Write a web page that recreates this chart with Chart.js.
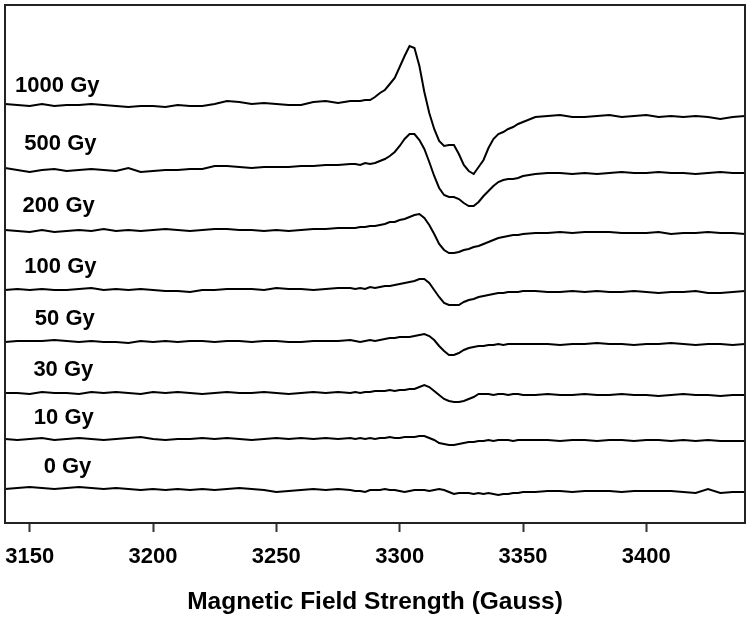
<!DOCTYPE html>
<html>
<head>
<meta charset="utf-8">
<script src="https://cdn.jsdelivr.net/npm/chart.js@4.4.1/dist/chart.umd.min.js"></script>
<style>
  html, body { margin: 0; padding: 0; background: #fff; }
  #wrap { width: 750px; height: 617px; }
</style>
</head>
<body>
<div id="wrap"><canvas id="c" width="750" height="617"></canvas></div>
<script>
// Magnetic field (Gauss)
const fields = [3140,3145,3150,3155,3160,3165,3170,3175,3180,3185,3190,3195,3200,3205,3210,3215,3220,3225,3230,3235,3240,3245,3250,3255,3260,3265,3270,3275,3280,
  3282,3284,3286,3288,3290,3292,3294,3296,3298,3300,3302,3304,3306,3308,3310,3312,3314,3316,3318,3320,3322,3324,3326,3328,3330,3332,3334,3336,3338,3340,3342,3344,3346,3348,3350,
  3355,3360,3365,3370,3375,3380,3385,3390,3395,3400,3405,3410,3415,3420,3425,3430,3435,3440];

const doseLabels = ["1000 Gy","500 Gy","200 Gy","100 Gy","50 Gy","30 Gy","10 Gy","0 Gy"];
// vertical stacking offsets (a.u.)
const offsets = [419, 355, 293, 233, 181, 130, 84, 34];

// EPR first-derivative signals (a.u.)
const s1000 = [0,-1,-2,0,-2,-1,-1,0,-1,-2,-3,-2,-2,-3,-1,-2,-2,0,3,2,0,1,0,-1,-1,2,3,1,3,
  3,3,4,4,7,11,14,20,26,37,48,58,56,38,12,-9,-25,-37,-42,-41,-41,-50,-61,-67,-70,-63,-56,-44,-35,-30,-28,-25,-23,-20,-18,
  -13,-12,-11,-13,-13,-12,-11,-13,-12,-11,-13,-12,-13,-12,-13,-15,-13,-12];
const s500 = [0,-2,-4,-2,-1,-3,-2,-1,-2,-3,0,-4,-3,-2,-2,-1,-1,2,2,1,0,1,1,1,2,2,3,3,4,
  4,3,5,4,5,7,9,12,16,22,29,34,34,28,19,6,-8,-20,-27,-29,-29,-31,-35,-38,-38,-34,-28,-23,-18,-14,-12,-11,-11,-10,-8,
  -6,-5,-5,-6,-5,-6,-5,-4,-5,-5,-4,-5,-5,-6,-5,-4,-5,-5];
const s200 = [0,-1,-2,0,-2,-1,0,-1,1,-1,0,-1,0,1,0,-1,0,1,1,0,0,-1,0,-1,0,1,1,2,2,
  2,3,3,4,4,5,6,8,8,10,11,13,15,16,12,5,-4,-14,-20,-23,-23,-22,-20,-19,-17,-16,-14,-12,-10,-8,-7,-6,-5,-5,-4,
  -3,-3,-2,-3,-2,-2,-2,-3,-3,-3,-2,-4,-3,-3,-2,-3,-3,-4];
const s100 = [0,1,0,1,0,0,1,2,0,1,0,1,0,-1,-1,-2,0,0,1,1,1,0,2,1,1,0,1,2,2,
  1,2,1,3,2,3,4,4,5,6,7,8,9,11,11,7,0,-7,-13,-15,-15,-15,-12,-10,-9,-7,-6,-5,-4,-3,-3,-2,-2,-2,-1,
  -1,-2,-2,-1,-2,-1,-2,-2,-1,-2,-3,-2,-2,-1,-3,-3,-2,-1];
const s50 = [0,1,1,1,2,1,0,1,0,0,-1,1,0,1,0,1,1,0,1,1,0,1,1,0,0,1,1,1,2,
  1,0,1,2,1,2,3,4,4,5,5,5,6,7,8,6,2,-4,-9,-13,-13,-11,-8,-6,-5,-4,-4,-3,-3,-2,-3,-2,-2,-2,-2,
  -2,-2,-3,-2,-2,-1,-2,-2,-3,-2,-2,-1,-2,-3,-2,-2,-3,-2];
const s30 = [0,0,-1,1,0,0,-1,1,0,1,0,-1,1,0,1,0,-1,0,1,0,0,1,0,-1,0,1,0,1,0,
  1,0,1,1,2,2,2,3,2,3,3,4,4,6,8,6,2,-2,-6,-8,-9,-9,-8,-6,-4,-1,-1,-1,-2,-1,-1,-2,-1,-1,-2,
  -2,-1,-2,-2,-1,-2,-2,-1,-2,-2,-3,-2,-1,-2,-2,-3,-2,-2];
const s10 = [0,-1,0,1,-1,0,1,0,-1,0,1,2,0,-1,0,0,1,0,1,0,-1,0,1,0,1,0,1,0,1,
  0,1,0,1,0,1,1,2,1,1,2,2,2,3,3,1,-1,-4,-5,-6,-6,-5,-4,-3,-3,-2,-2,-1,-2,-1,-1,-1,-2,-1,-1,
  -1,-1,-2,-1,-1,-2,-1,-1,-2,-1,-1,-2,-1,-2,-1,-2,-2,-2];
const s0 = [0,1,2,1,0,1,2,1,0,1,0,-1,0,-1,0,-1,0,-1,0,1,0,-1,-3,-2,-1,0,-1,0,-1,
  -2,-2,-3,-1,-1,-1,0,-1,-1,-2,-3,-2,-1,-1,-1,-2,-1,0,-1,-3,-5,-4,-4,-4,-5,-4,-5,-4,-5,-6,-5,-5,-4,-4,-3,
  -3,-2,-2,-3,-2,-2,-2,-3,-2,-2,-2,-2,-3,-4,0,-4,-3,-3];

const signals = [s1000, s500, s200, s100, s50, s30, s10, s0];

const xTicks = [3150, 3200, 3250, 3300, 3350, 3400];

const datasets = signals.map((sig, i) => ({
  label: doseLabels[i],
  data: fields.map((f, j) => ({ x: f, y: offsets[i] + sig[j] })),
  borderColor: '#000',
  borderWidth: 2,
  pointRadius: 0,
  tension: 0,
  fill: false
}));

// label anchors: right edge (Gauss) and text baseline (a.u.)
const labelAnchor = {
  right: [3178.3, 3177.1, 3176.4, 3177.1, 3176.4, 3175.8, 3176.0, 3175.0],
  base:  [431, 373, 311, 250, 198, 147, 99, 50]
};

const framePlugin = {
  id: 'frame',
  afterDatasetsDraw(chart) {
    const { ctx, chartArea: a } = chart;
    ctx.save();
    ctx.strokeStyle = '#222';
    ctx.lineWidth = 2;
    ctx.strokeRect(a.left, a.top, a.right - a.left, a.bottom - a.top);
    ctx.restore();
  }
};

const labelPlugin = {
  id: 'doseLabels',
  afterDatasetsDraw(chart) {
    const { ctx } = chart;
    const xs = chart.scales.x, ys = chart.scales.y;
    ctx.save();
    ctx.font = 'bold 22px "Liberation Sans", Arial, sans-serif';
    ctx.fillStyle = '#000';
    ctx.textAlign = 'right';
    ctx.textBaseline = 'alphabetic';
    doseLabels.forEach((t, i) => {
      ctx.fillText(t, xs.getPixelForValue(labelAnchor.right[i]), ys.getPixelForValue(labelAnchor.base[i]));
    });
    ctx.restore();
  }
};

new Chart(document.getElementById('c'), {
  type: 'line',
  data: { datasets },
  options: {
    responsive: false,
    animation: false,
    events: [],
    layout: { padding: { left: 5, right: 5, top: 5, bottom: 0 } },
    plugins: { legend: { display: false }, tooltip: { enabled: false } },
    scales: {
      x: {
        type: 'linear',
        min: 3140,
        max: 3440,
        afterBuildTicks(scale) { scale.ticks = xTicks.map(v => ({ value: v })); },
        afterFit(scale) { scale.paddingLeft = 0; scale.paddingRight = 0; scale.height = 94; },
        ticks: {
          includeBounds: false,
          maxRotation: 0,
          autoSkip: false,
          padding: 12,
          color: '#000',
          callback: (v) => String(v),
          font: { family: '"Liberation Sans", Arial, sans-serif', size: 22, weight: 'bold' }
        },
        grid: { drawOnChartArea: false, drawTicks: true, tickLength: 9, tickWidth: 2, tickColor: '#333' },
        border: { display: false },
        title: {
          display: true,
          text: 'Magnetic Field Strength (Gauss)',
          color: '#000',
          font: { family: '"Liberation Sans", Arial, sans-serif', size: 24.5, weight: 'bold' },
          padding: { top: 16, bottom: 0 }
        }
      },
      y: {
        type: 'linear',
        min: 0,
        max: 518,
        display: false
      }
    }
  },
  plugins: [framePlugin, labelPlugin]
});
</script>
</body>
</html>
